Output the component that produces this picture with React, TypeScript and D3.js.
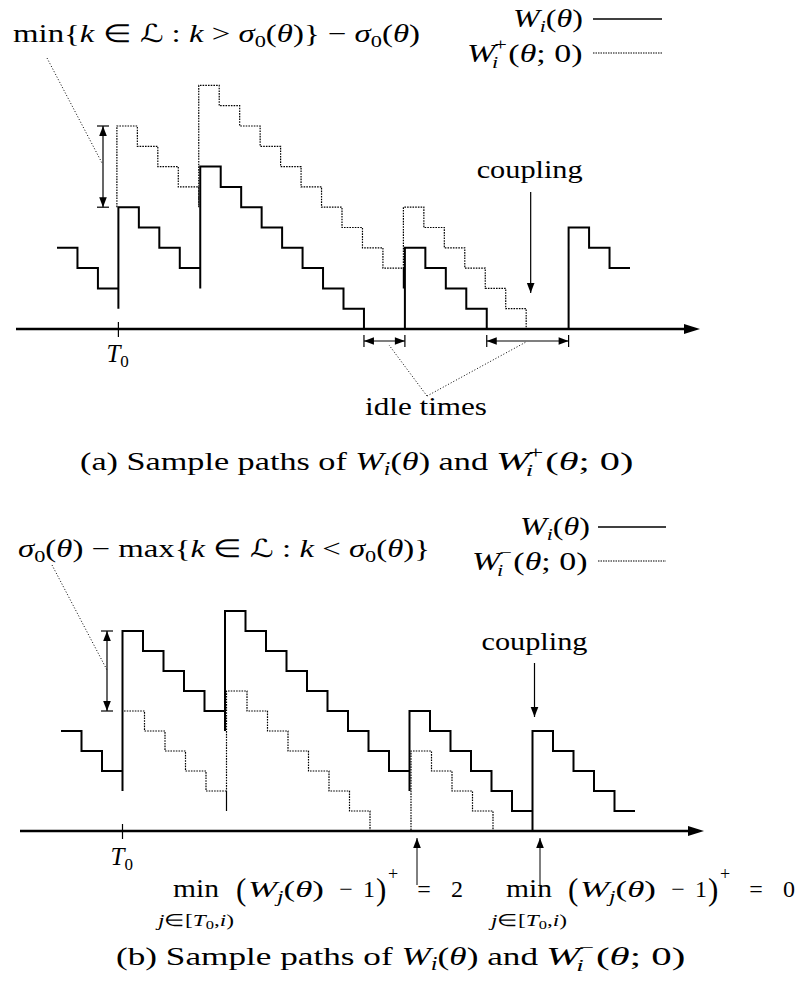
import React from 'react';
import * as d3 from 'd3';

// workload levels per unit interval, panel (a)
const solidA = [4, 3, 2, 6, 5, 4, 3, 8, 7, 6, 5, 4, 3, 2, 1, 0, 0, 4, 3, 2, 1, 0, 0, 0, 0, 5, 4, 3];
const plusStart = 3;
const plusFrom = 6;
const plusA = [10, 9, 8, 7, 12, 11, 10, 9, 8, 7, 6, 5, 4, 3, 6, 5, 4, 3, 2, 1, 0];

// panel (b)
const solidB = [5, 4, 3, 10, 9, 8, 7, 6, 11, 10, 9, 8, 7, 6, 5, 4, 3, 6, 5, 4, 3, 2, 1, 5, 4, 3, 2, 1];
const minusStart = 3;
const minusFrom = 6;
const minusB = [6, 5, 4, 3, 2, 7, 6, 5, 4, 3, 2, 1, 0, 0, 4, 3, 2, 1, 0];

const T0 = 3;
const idleA = [[15, 17], [21, 25]];
const gapA = [6, 10]; // min{k in L: k > sigma0} - sigma0
const gapB = [6, 10];
const couplingA = 23;
const couplingB = 23;
const minMarks = [17, 23];
const minValues = ['2', '0'];

const FONT = "'Liberation Serif', 'Times New Roman', serif";

function stepPath(levels: number[], start: number, from: number, x: any, y: any) {
  const p = d3.path();
  p.moveTo(x(start), y(from));
  let prev = 0;
  levels.forEach((L, k) => {
    const t = start + k;
    if (k === 0) p.lineTo(x(t), y(L));
    else if (L < prev) p.lineTo(x(t), y(L));
    else if (L > prev) {
      p.lineTo(x(t), y(Math.max(prev - 1, 0)));
      p.lineTo(x(t), y(L));
    }
    p.lineTo(x(t + 1), y(L));
    prev = L;
  });
  return p.toString();
}

function head(x: number, y: number, dx: number, dy: number, len = 10, hw = 3.8) {
  const n = Math.hypot(dx, dy);
  const ux = dx / n, uy = dy / n;
  const bx = x - ux * len, by = y - uy * len;
  return `M${x},${y}L${bx - uy * hw},${by + ux * hw}L${bx + uy * hw},${by - ux * hw}Z`;
}

function Arrow({ x1, y1, x2, y2, w = 1.2 }: any) {
  return (
    <g>
      <line x1={x1} y1={y1} x2={x2} y2={y2} stroke="#000" strokeWidth={w} />
      <path d={head(x2, y2, x2 - x1, y2 - y1)} fill="#000" />
    </g>
  );
}

// double arrow between caps (vertical or horizontal)
function Span({ a, b, c, vertical, cap = 6 }: any) {
  if (vertical) {
    return (
      <g stroke="#000" strokeWidth={1.2}>
        <line x1={c} y1={a} x2={c} y2={b} />
        <line x1={c - cap} y1={a} x2={c + cap} y2={a} />
        <line x1={c - cap} y1={b} x2={c + cap} y2={b} />
        <path d={head(c, a, 0, a - b)} fill="#000" stroke="none" />
        <path d={head(c, b, 0, b - a)} fill="#000" stroke="none" />
      </g>
    );
  }
  return (
    <g stroke="#000" strokeWidth={1.2}>
      <line x1={a} y1={c} x2={b} y2={c} />
      <line x1={a} y1={c - cap} x2={a} y2={c + cap} />
      <line x1={b} y1={c - cap} x2={b} y2={c + cap} />
      <path d={head(a, c, a - b, 0)} fill="#000" stroke="none" />
      <path d={head(b, c, b - a, 0)} fill="#000" stroke="none" />
    </g>
  );
}

const I = (s: string) => <tspan fontStyle="italic">{s}</tspan>;

function Axis({ x0, x1, y, tick }: any) {
  return (
    <g>
      <line x1={x0} y1={y} x2={x1 - 8} y2={y} stroke="#000" strokeWidth={2.4} />
      <path d={head(x1, y, 1, 0, 16, 5)} fill="#000" />
      <line x1={tick} y1={y - 7} x2={tick} y2={y + 8} stroke="#000" strokeWidth={1.2} />
    </g>
  );
}

// W_i with a sign stacked over the subscript, then (θ; 0)
function WiSign({ x, y, sign, size = 26, len }: any) {
  const s = size * 0.66;
  const nat = size * (0.8 + 0.42 + 2.2);
  const sx = len / nat;
  return (
    <g transform={`translate(${x},${y}) scale(${sx},1)`} fontFamily={FONT} fontSize={size}>
      <text x={0} y={0} fontStyle="italic">W</text>
      <text x={size * 0.74} y={size * 0.24} fontSize={s} fontStyle="italic">i</text>
      <text x={size * 0.8} y={-size * 0.45} fontSize={s}>{sign}</text>
      <text x={size * 1.22} y={0}>({I('θ')}; 0)</text>
    </g>
  );
}

function Legend({ x1, x2, y1, y2, tx1, tx2, sign }: any) {
  return (
    <g fontFamily={FONT} fontSize={25}>
      <text x={tx1} y={y1 + 8} textLength={70} lengthAdjust="spacingAndGlyphs">
        {I('W')}<tspan fontSize={17} dy={5} fontStyle="italic">i</tspan><tspan dy={-5}>(</tspan>{I('θ')}<tspan>)</tspan>
      </text>
      <line x1={x1} y1={y1} x2={x2} y2={y1} stroke="#000" strokeWidth={1.4} />
      <WiSign x={tx2} y={y2 + 9} sign={sign} len={116} />
      <line x1={x1} y1={y2} x2={x2} y2={y2} stroke="#000" strokeWidth={1.2} strokeDasharray="1.5,1" />
    </g>
  );
}

function MinLabel({ cx, y, X, val }: any) {
  return (
    <g fontFamily={FONT} fontSize={24}>
      <text x={cx} y={y} fontSize={25} textAnchor="middle" textLength={46} lengthAdjust="spacingAndGlyphs">min</text>
      <text x={cx} y={y + 29} fontSize={17} textAnchor="middle" textLength={76} lengthAdjust="spacingAndGlyphs">
        {I('j')}<tspan>∈[</tspan>{I('T')}<tspan fontSize={12} dy={3}>0</tspan><tspan dy={-3}>,</tspan>{I('i')}<tspan>)</tspan>
      </text>
      <text x={X} y={y + 3} fontSize={31}>(</text>
      <text x={X + 12} y={y} textLength={76} lengthAdjust="spacingAndGlyphs">
        {I('W')}<tspan fontSize={16} dy={5} fontStyle="italic">j</tspan><tspan dy={-5}>(</tspan>{I('θ')}<tspan>)</tspan>
      </text>
      <text x={X + 110} y={y} textAnchor="middle">−</text>
      <text x={X + 127} y={y}>1</text>
      <text x={X + 140} y={y + 3} fontSize={31}>)</text>
      <text x={X + 152} y={y - 17} fontSize={18}>+</text>
      <text x={X + 188} y={y} textAnchor="middle">=</text>
      <text x={X + 227} y={y} textAnchor="end">{val}</text>
    </g>
  );
}

export default function App() {
  const xA = d3.scaleLinear().domain([0, 28]).range([57, 630]);
  const yA = d3.scaleLinear().domain([0, 12]).range([329, 85.4]);
  const xB = d3.scaleLinear().domain([0, 28]).range([61, 635]);
  const yB = d3.scaleLinear().domain([0, 11]).range([831, 611]);

  const dash = '1.6,1.1';

  return (
    <svg width={797} height={995} style={{ position: 'absolute', left: 0, top: 0, background: '#fff' }}>
      <rect width={797} height={995} fill="#fff" />

      {/* ---------- panel (a) ---------- */}
      <text x={13} y={42} fontFamily={FONT} fontSize={25} textLength={407} lengthAdjust="spacingAndGlyphs">
        <tspan>min{'{'}</tspan>{I('k')}<tspan>{' ∈ ℒ : '}</tspan>{I('k')}<tspan>{' > '}</tspan>{I('σ')}<tspan fontSize={17} dy={5}>0</tspan><tspan dy={-5}>(</tspan>{I('θ')}<tspan>{')} − '}</tspan>{I('σ')}<tspan fontSize={17} dy={5}>0</tspan><tspan dy={-5}>(</tspan>{I('θ')}<tspan>)</tspan>
      </text>
      <Legend x1={593} x2={662} y1={19} y2={53} tx1={513} tx2={467} sign="+" />

      <path d={stepPath(plusA, plusStart, plusFrom, xA, yA)} transform="translate(-1.5,0)" fill="none" stroke="#000" strokeWidth={1.2} strokeDasharray={dash} />
      <path d={stepPath(solidA, 0, solidA[0], xA, yA)} fill="none" stroke="#000" strokeWidth={2} />
      <Axis x0={16} x1={700} y={329} tick={xA(T0)} />

      <line x1={47} y1={58} x2={102} y2={163} stroke="#000" strokeWidth={1} strokeDasharray="1,2" />
      <Span vertical a={yA(gapA[1])} b={yA(gapA[0])} c={103} />

      <text x={xA(couplingA) + 2} y={178} fontFamily={FONT} fontSize={25} textAnchor="middle" textLength={106} lengthAdjust="spacingAndGlyphs">coupling</text>
      <Arrow x1={xA(couplingA) + 3} y1={192} x2={xA(couplingA) + 3} y2={293} />

      <text x={xA(T0) - 12} y={362} fontFamily={FONT} fontSize={25}>{I('T')}<tspan fontSize={17} dy={5}>0</tspan></text>

      {idleA.map(([s, e], k) => (
        <Span key={k} a={xA(s)} b={xA(e)} c={341} cap={6} />
      ))}
      <line x1={427} y1={396} x2={389} y2={345} stroke="#000" strokeWidth={1} strokeDasharray="1,2" />
      <line x1={427} y1={396} x2={526} y2={342} stroke="#000" strokeWidth={1} strokeDasharray="1,2" />
      <text x={365} y={415} fontFamily={FONT} fontSize={25} textLength={122} lengthAdjust="spacingAndGlyphs">idle times</text>

      <text x={80} y={470} fontFamily={FONT} fontSize={26} textLength={408} lengthAdjust="spacingAndGlyphs">
        <tspan>(a) Sample paths of </tspan>{I('W')}<tspan fontSize={18} dy={5} fontStyle="italic">i</tspan><tspan dy={-5}>(</tspan>{I('θ')}<tspan>{') and'}</tspan>
      </text>
      <WiSign x={496} y={470} sign="+" size={26} len={138} />

      {/* ---------- panel (b) ---------- */}
      <text x={18} y={557} fontFamily={FONT} fontSize={25} textLength={412} lengthAdjust="spacingAndGlyphs">
        {I('σ')}<tspan fontSize={17} dy={5}>0</tspan><tspan dy={-5}>(</tspan>{I('θ')}<tspan>{') − max{'}</tspan>{I('k')}<tspan>{' ∈ ℒ : '}</tspan>{I('k')}<tspan>{' < '}</tspan>{I('σ')}<tspan fontSize={17} dy={5}>0</tspan><tspan dy={-5}>(</tspan>{I('θ')}<tspan>{')}'}</tspan>
      </text>
      <Legend x1={598} x2={666} y1={527} y2={561} tx1={520} tx2={472} sign="−" />

      <path d={stepPath(minusB, minusStart, minusFrom, xB, yB)} transform="translate(1.5,0)" fill="none" stroke="#000" strokeWidth={1.2} strokeDasharray={dash} />
      <path d={stepPath(solidB, 0, solidB[0], xB, yB)} fill="none" stroke="#000" strokeWidth={2} />
      <Axis x0={20} x1={704} y={831} tick={xB(T0)} />

      <line x1={52} y1={565} x2={107} y2={670} stroke="#000" strokeWidth={1} strokeDasharray="1,2" />
      <Span vertical a={yB(gapB[1])} b={yB(gapB[0])} c={107} />

      <text x={xB(couplingB) + 2} y={650} fontFamily={FONT} fontSize={25} textAnchor="middle" textLength={106} lengthAdjust="spacingAndGlyphs">coupling</text>
      <Arrow x1={xB(couplingB) + 2} y1={663} x2={xB(couplingB) + 2} y2={717} />

      <text x={xB(T0) - 12} y={865} fontFamily={FONT} fontSize={25}>{I('T')}<tspan fontSize={17} dy={5}>0</tspan></text>

      {minMarks.map((t, k) => (
        <Arrow key={k} x1={xB(t) + 7.5} y1={885} x2={xB(t) + 7.5} y2={838} w={1} />
      ))}
      <MinLabel cx={196} y={897} X={236} val={minValues[0]} />
      <MinLabel cx={529} y={897} X={568} val={minValues[1]} />

      <text x={116} y={965} fontFamily={FONT} fontSize={26} textLength={422} lengthAdjust="spacingAndGlyphs">
        <tspan>(b) Sample paths of </tspan>{I('W')}<tspan fontSize={18} dy={5} fontStyle="italic">i</tspan><tspan dy={-5}>(</tspan>{I('θ')}<tspan>{') and'}</tspan>
      </text>
      <WiSign x={546} y={965} sign="−" size={26} len={140} />
    </svg>
  );
}
